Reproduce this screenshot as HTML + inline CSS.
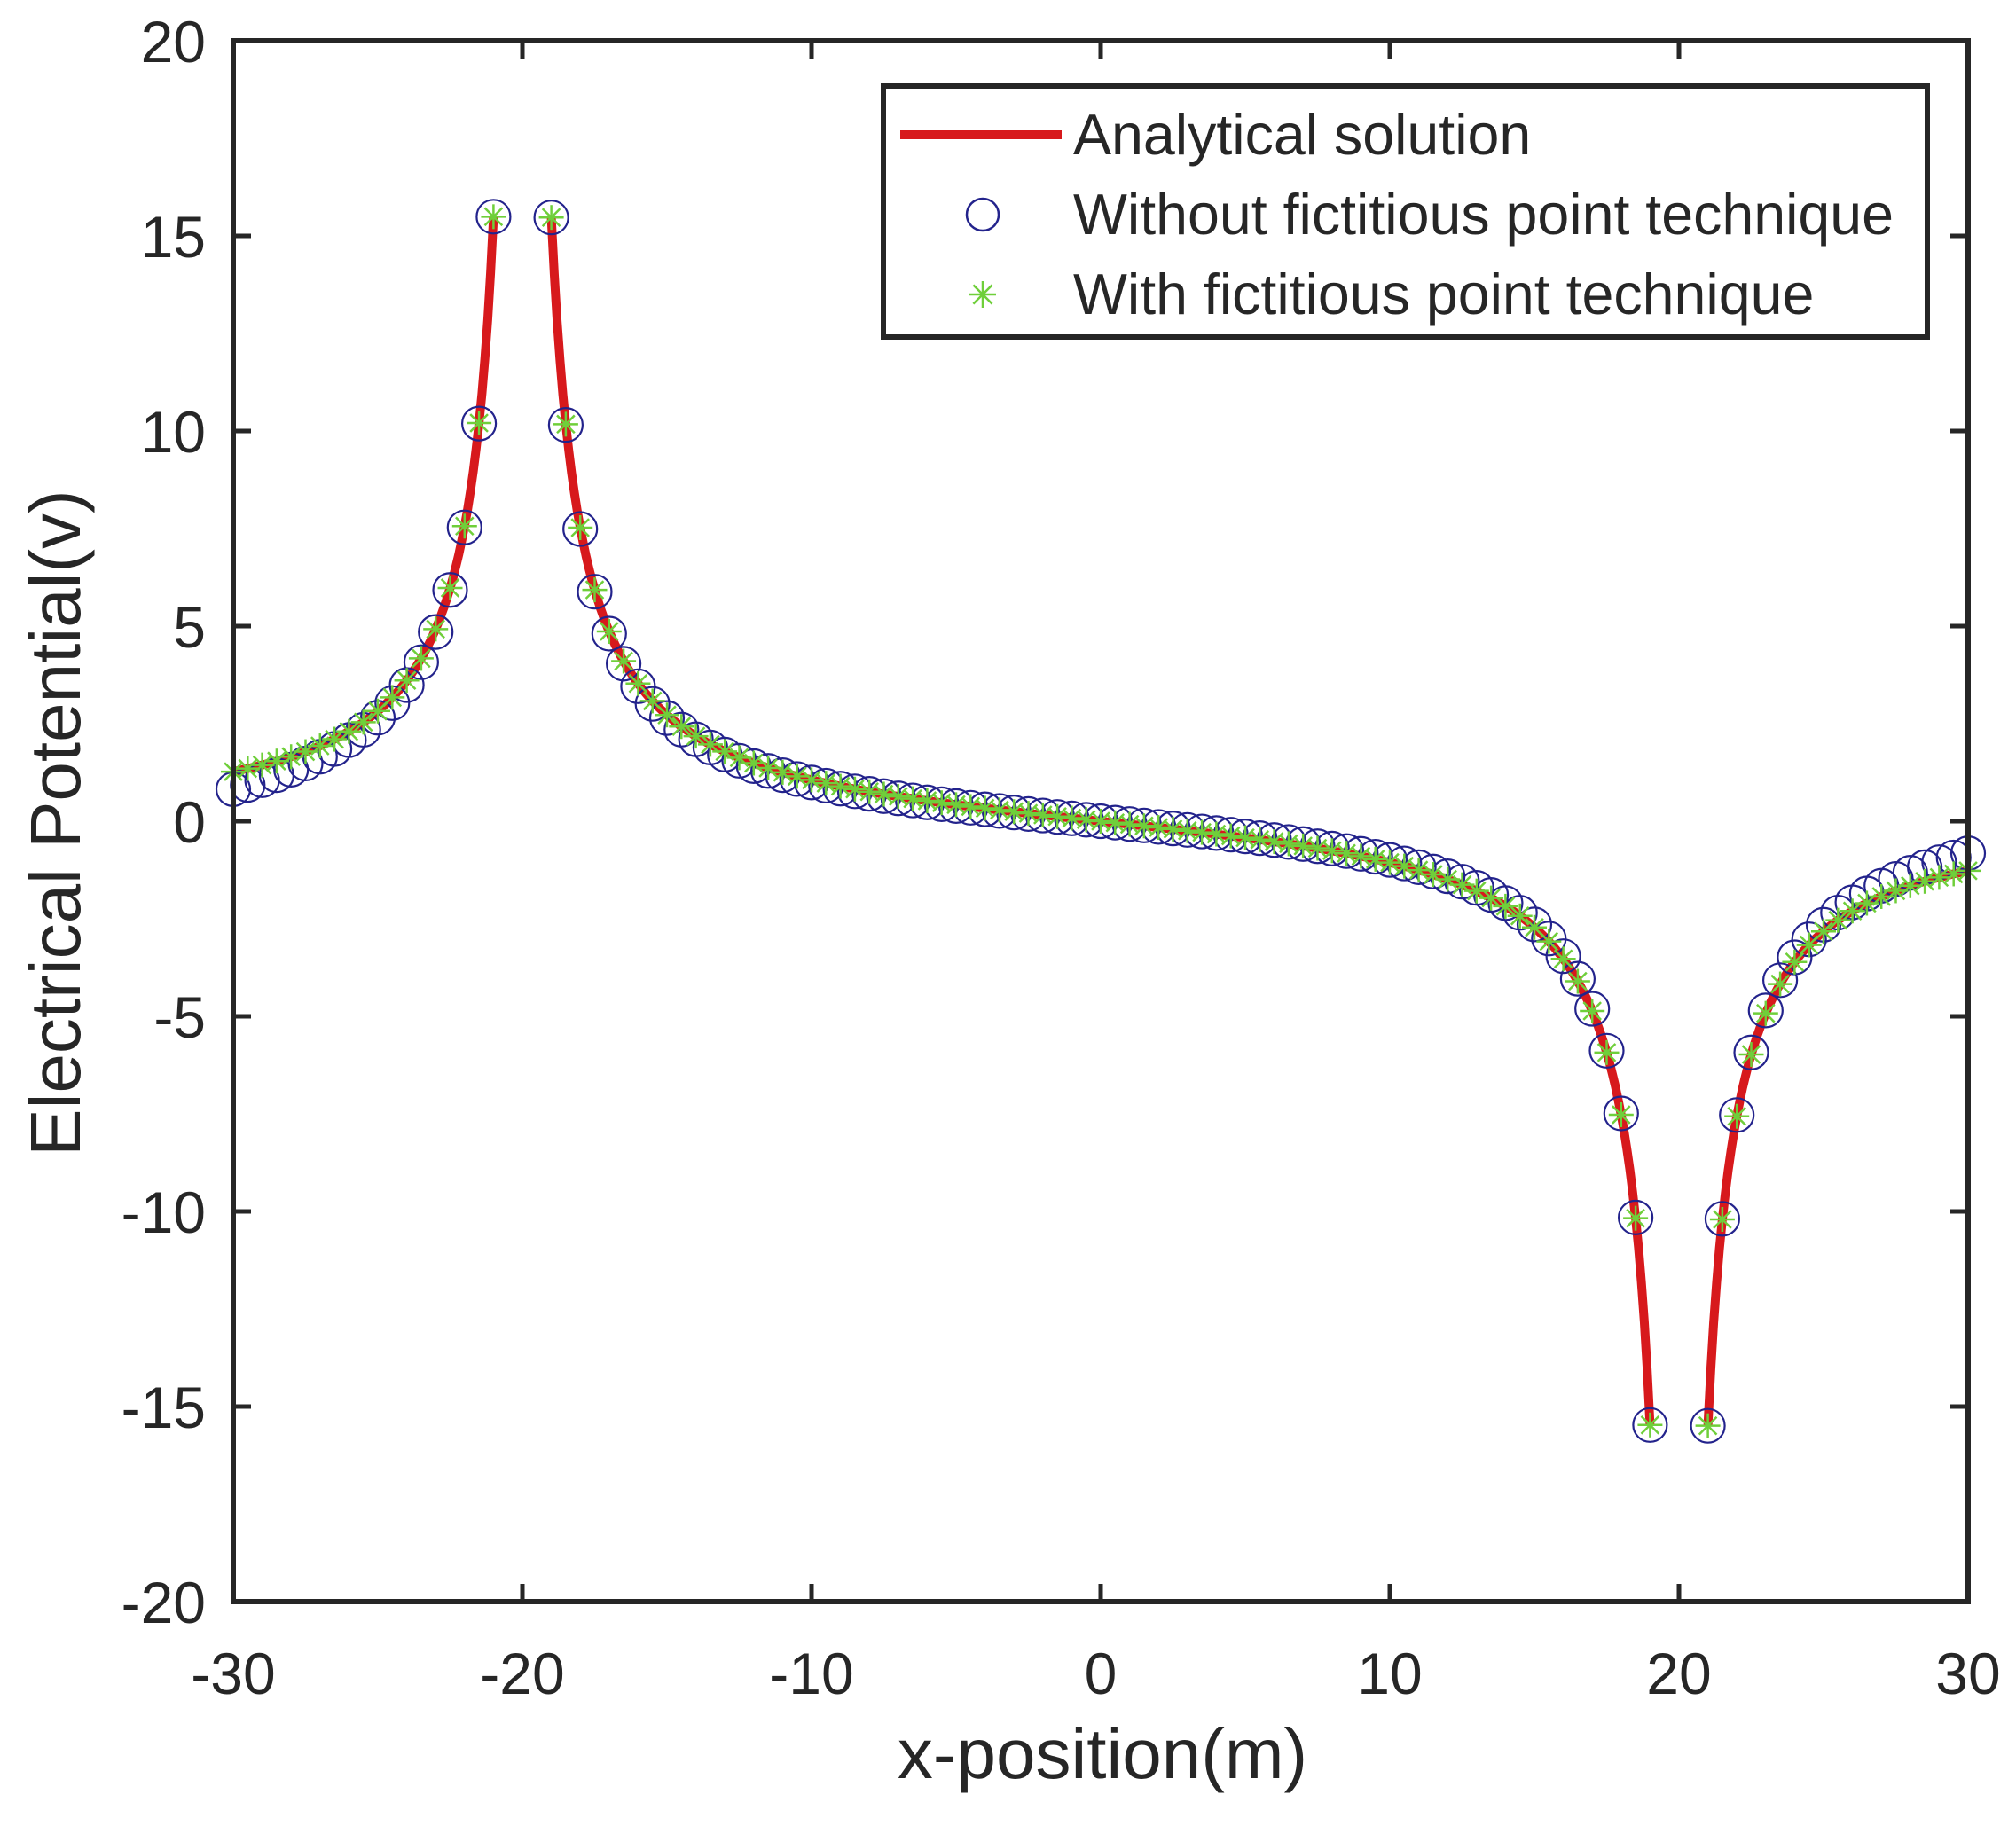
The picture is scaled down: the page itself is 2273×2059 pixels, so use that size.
<!DOCTYPE html>
<html><head><meta charset="utf-8"><style>
html,body{margin:0;padding:0;background:#fff;overflow:hidden;width:2273px;height:2059px;}
svg{display:block;}
text{font-family:"Liberation Sans",Arial,sans-serif;fill:#262626;}
</style></head><body>
<svg id="s" width="2273" height="2059" viewBox="0 0 2273 2059" xmlns="http://www.w3.org/2000/svg">
<rect width="2273" height="2059" fill="#fff"/>
<g id="data"></g>
<g id="axes"></g>
<g id="legend">
<rect x="996" y="97" width="1177" height="283" fill="#fff" stroke="#262626" stroke-width="6"/>
<line x1="1015" y1="152" x2="1197" y2="152" stroke="#d7191c" stroke-width="10"/>
<text x="1210" y="174" font-size="64.5" fill="#000">Analytical solution</text>
<circle cx="1108" cy="242" r="18" fill="none" stroke="#23238c" stroke-width="2.5"/>
<text x="1210" y="264" font-size="64.5" fill="#000">Without fictitious point technique</text>
<g id="legstar"></g>
<text x="1210" y="354" font-size="64.5" fill="#000">With fictitious point technique</text>
</g>
<text x="1243" y="2005" font-size="80" text-anchor="middle">x-position(m)</text>
<text transform="translate(90,928) rotate(-90)" font-size="80" text-anchor="middle">Electrical Potential(v)</text>
</svg>
<script>
var NS="http://www.w3.org/2000/svg";
var L=263,R=2219,T=46,B=1806;
function X(x){return L+(x+30)/60*(R-L);}
function Y(y){return T+(20-y)/40*(B-T);}
function el(n,a,p){var e=document.createElementNS(NS,n);for(var k in a)e.setAttribute(k,a[k]);p.appendChild(e);return e;}
function V(x){return 15.88*(1/Math.abs(x+20)-1/Math.abs(x-20));}
var d=document.getElementById("data"),ax=document.getElementById("axes");
var segs=[[-30,-21],[-19,19],[21,30]];
segs.forEach(function(s){var pts=[];for(var x=s[0];x<=s[1]+1e-9;x+=0.1){pts.push(X(x).toFixed(1)+","+Y(V(x)).toFixed(1));}
el("polyline",{points:pts.join(" "),fill:"none",stroke:"#d7191c","stroke-width":10,"stroke-linejoin":"round"},d);});
var xs=[];for(var i=0;i<=120;i++){var x=-30+i*0.5;if(Math.abs(Math.abs(x)-20)<0.01)continue;xs.push(x);}
function off(x){var a=Math.abs(x),s=x<0?-1:1;
if(a>=21)return s*0.45*Math.pow((a-21)/9,1.2);
return s*0.13*(a/19)*(1-Math.pow(a/19,6));}
xs.forEach(function(x){var c=V(x)+off(x);
el("circle",{cx:X(x),cy:Y(c),r:19,fill:"none",stroke:"#23238c","stroke-width":2.2},d);});
function star(cx,cy,r,p){var g=el("g",{stroke:"#6fcf3a","stroke-width":2.5},p);
for(var k=0;k<4;k++){var a=k*Math.PI/4;el("line",{x1:cx-r*Math.sin(a),y1:cy-r*Math.cos(a),x2:cx+r*Math.sin(a),y2:cy+r*Math.cos(a)},g);}}
xs.forEach(function(x){star(X(x),Y(V(x)),14,d);});
star(1108,332,15,document.getElementById("legstar"));
el("rect",{x:L,y:T,width:R-L,height:B-T,fill:"none",stroke:"#262626","stroke-width":6},ax);
for(var v=-30;v<=30;v+=10){var px=X(v);
el("line",{x1:px,y1:B,x2:px,y2:B-20,stroke:"#262626","stroke-width":5},ax);
el("line",{x1:px,y1:T,x2:px,y2:T+20,stroke:"#262626","stroke-width":5},ax);
var t=el("text",{x:px,y:1910,"font-size":66,"text-anchor":"middle"},ax);t.textContent=v;}
for(var v=-20;v<=20;v+=5){var py=Y(v);
el("line",{x1:L,y1:py,x2:L+20,y2:py,stroke:"#262626","stroke-width":5},ax);
el("line",{x1:R,y1:py,x2:R-20,y2:py,stroke:"#262626","stroke-width":5},ax);
var t=el("text",{x:232,y:py+24,"font-size":66,"text-anchor":"end"},ax);t.textContent=v;}
</script>
</body></html>
